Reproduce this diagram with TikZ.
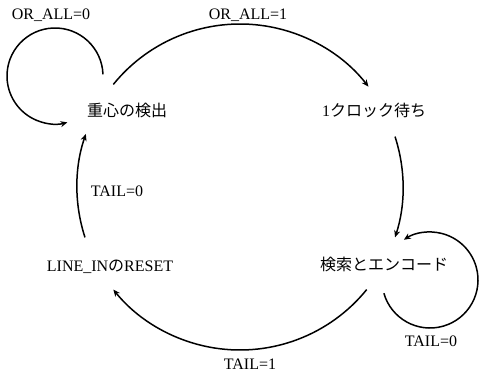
\documentclass[tikz,border=0pt]{standalone}
\usepackage{fontspec}
\setmainfont{Liberation Serif}
\newfontfamily\jp{Noto Sans CJK JP}
\usetikzlibrary{arrows.meta,calc}
\begin{document}
\begin{tikzpicture}[x=1pt,y=1pt,
  state/.style={font=\fontsize{16}{19}\selectfont, inner sep=0pt},
  lbl/.style={font=\fontsize{16}{19}\selectfont, inner sep=0pt},
  arr/.style={line width=1.5pt, -{Stealth[length=7pt,width=6pt]}}]
\useasboundingbox (0,0) rectangle (481,375);
\coordinate (C) at (240,188);
% states
\node[state] (s1) at (127,265) {\jp 重心の検出};
\node[state] (s2) at (374,265) {1{\jp クロック待ち}};
\node[state] (s3) at (384,111) {\jp 検索とエンコード};
\node[state] (s4) at (110,108) {LINE\_IN{\jp の}RESET};
% labels
\node[lbl] (l1) at (51,360) {OR\_ALL=0};
\node[lbl] (l2) at (248,360) {OR\_ALL=1};
\node[lbl] (l3) at (117,184) {TAIL=0};
\node[lbl] (l4) at (250,11) {TAIL=1};
\node[lbl] (l5) at (431,34) {TAIL=0};
% arc end points on the main circle
\coordinate (a1) at ($(C)+(141:163)$);
\coordinate (a2) at ($(C)+(18:163)$);
\coordinate (a3) at ($(C)+(-39:163)$);
\coordinate (a4) at ($(C)+(198:163)$);
% transitions
\draw[arr] (a1) arc[start angle=141, end angle=38, radius=163];
\draw[arr] (a2) arc[start angle=18, end angle=-18, radius=163];
\draw[arr] (a3) arc[start angle=-39, end angle=-141, radius=163];
\draw[arr] (a4) arc[start angle=198, end angle=161, radius=163];
% self loops
\coordinate (c1) at (55,299);
\coordinate (c3) at (430,95);
\coordinate (b1) at ($(c1)+(2:48)$);
\coordinate (b3) at ($(c3)+(196:48)$);
\draw[arr] (b1) arc[start angle=2, end angle=285, radius=48];
\draw[arr] (b3) arc[start angle=196, end angle=483, radius=48];
\end{tikzpicture}
\end{document}
